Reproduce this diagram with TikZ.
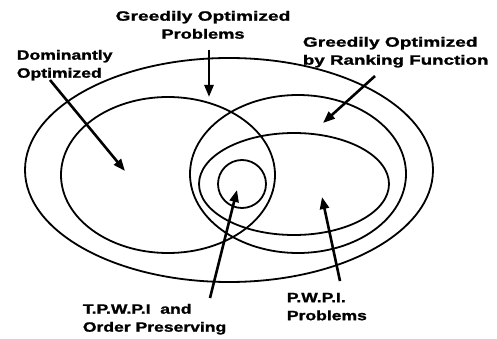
\documentclass[tikz,border=0pt]{standalone}
\usepackage{fontspec}
\setmainfont{Liberation Sans}[BoldFeatures={FakeBold=1.2}]
\usetikzlibrary{arrows.meta}
\newcommand{\stretchtxt}[2][1.3]{\scalebox{#1}[1]{#2}}
\begin{document}
\begin{tikzpicture}[x=1pt,y=-1pt,line width=1.8pt,
  lbl/.style={font=\bfseries\fontsize{13.5}{18}\selectfont,inner sep=0pt,align=left},
  ptr/.style={line width=2.6pt,-{Triangle[length=12pt,width=9pt]}}]
\useasboundingbox (0,0) rectangle (497,339);
% sets
\draw (229,170) ellipse [x radius=204pt,y radius=112pt];
\draw (168,175) ellipse [x radius=107pt,y radius=78pt];
\draw (298,174) ellipse [x radius=108pt,y radius=79pt];
\draw (294,184) ellipse [x radius=95pt,y radius=51pt];
\draw (242,184) circle [radius=24pt];
% labels
\node[lbl,anchor=north west] (dom) at (16,49) {\stretchtxt{Dominantly}\\\stretchtxt{Optimized}};
\node[lbl,anchor=north,align=center] (gop) at (203,10) {\stretchtxt[1.42]{Greedily Optimized}\\\stretchtxt[1.35]{Problems}};
\node[lbl,anchor=north west] (grf) at (302,36) {\stretchtxt[1.42]{Greedily Optimized}\\\stretchtxt[1.39]{by Ranking Function}};
\node[lbl,anchor=north west] (tpw) at (82,303) {\stretchtxt{T.P.W.P.I\ \ and}\\\stretchtxt{Order Preserving}};
\node[lbl,anchor=north west] (pwp) at (286,292) {\stretchtxt{P.W.P.I.}\\\stretchtxt{Problems}};
% pointer ends
\coordinate (d1) at (50,80);   \coordinate (d2) at (125,171);
\coordinate (g1) at (209,50);  \coordinate (g2) at (209,97);
\coordinate (r1) at (375,76);  \coordinate (r2) at (323,123);
\coordinate (t1) at (210,298); \coordinate (t2) at (237,190);
\coordinate (p1) at (340,281); \coordinate (p2) at (322,197);
\draw[ptr] (d1) -- (d2);
\draw[ptr] (g1) -- (g2);
\draw[ptr] (r1) -- (r2);
\draw[ptr] (t1) -- (t2);
\draw[ptr] (p1) -- (p2);
\end{tikzpicture}
\end{document}
